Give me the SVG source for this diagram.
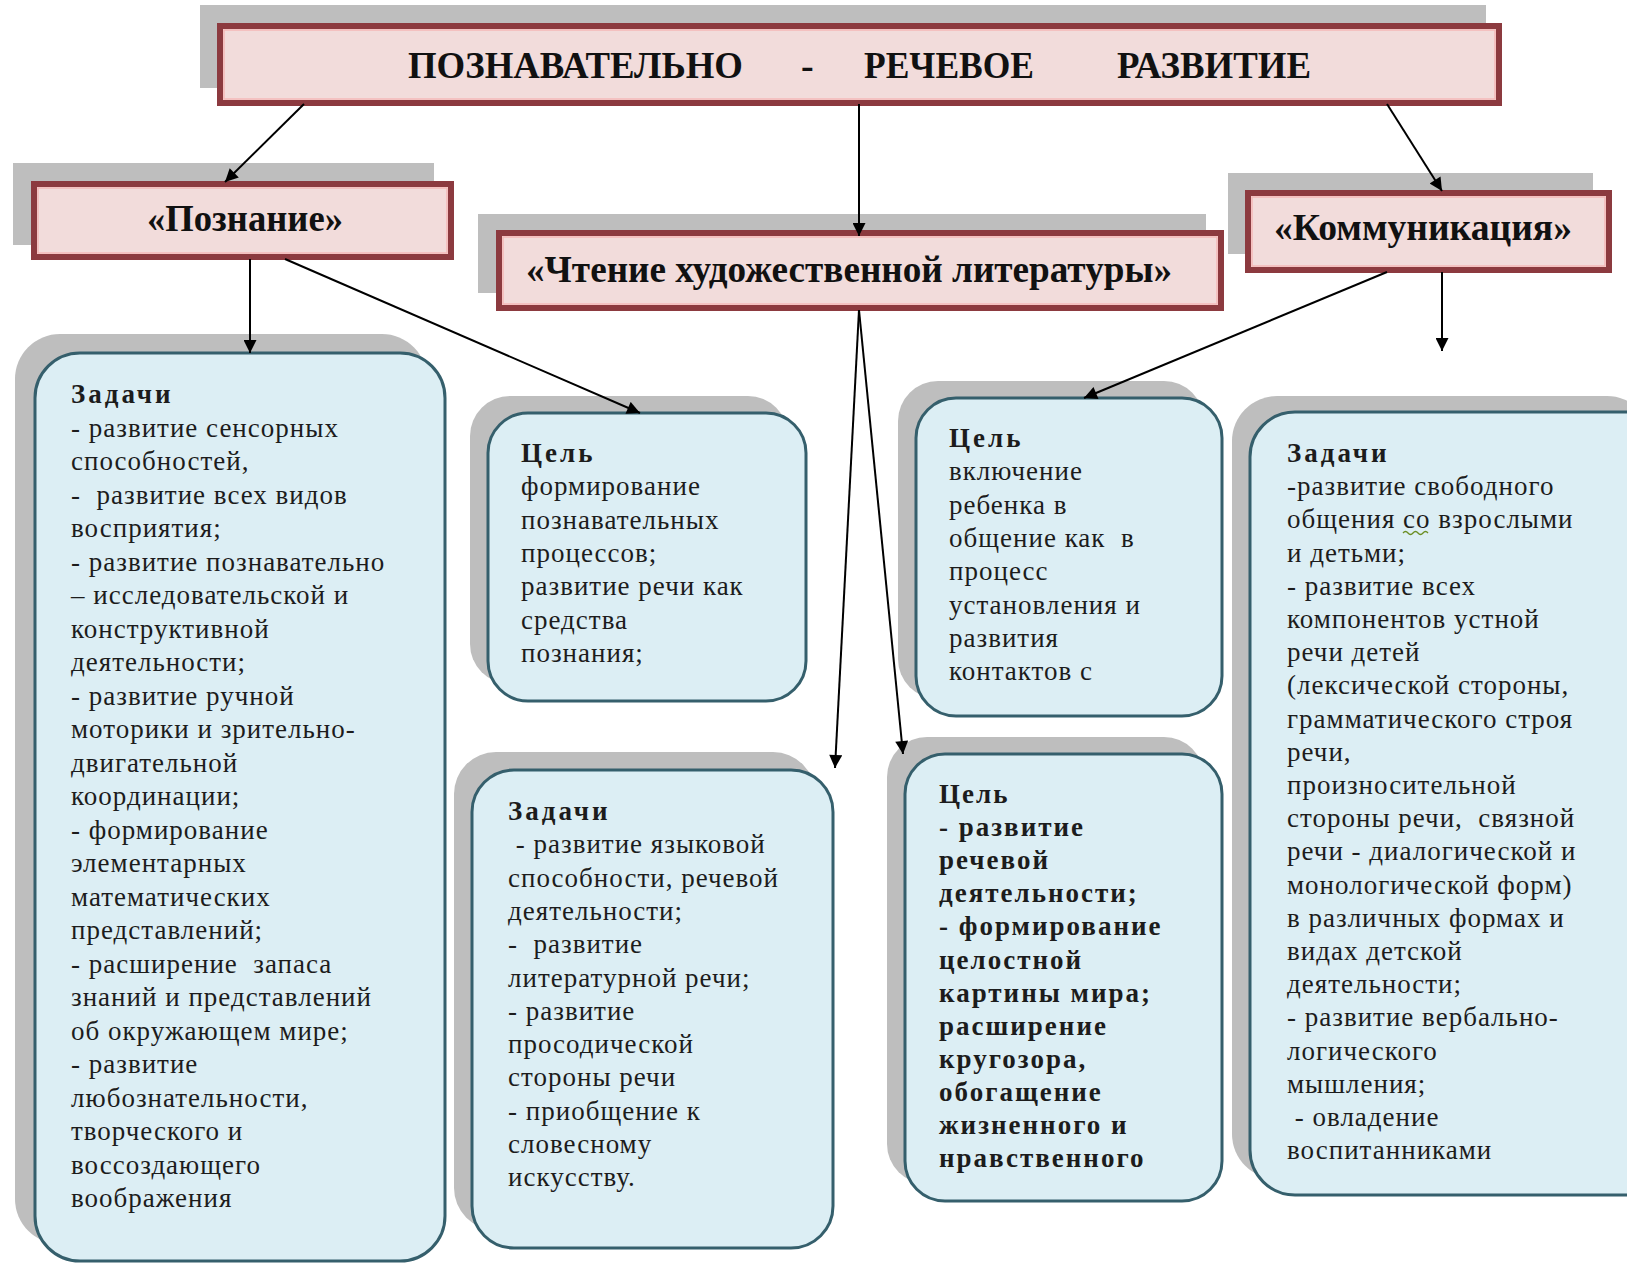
<svg xmlns="http://www.w3.org/2000/svg" width="1627" height="1266" viewBox="0 0 1627 1266">
<defs>
<style>
.shadow{fill:#BEBEBE}
.hdr{fill:#F2DCDB;stroke:#8C3A3F;stroke-width:6}
.hdrin{fill:none;stroke:#F5B8B8;stroke-width:1.5}
.card{fill:#DCEEF4;stroke:#355F6C;stroke-width:3}
.ht{font-family:"Liberation Serif",serif;font-weight:bold;fill:#111}
.body{font-family:"Liberation Serif",serif;font-size:27px;fill:#1c1c1c;letter-spacing:1px;white-space:pre}
.b{font-weight:bold;letter-spacing:3px}
.bb{font-family:"Liberation Serif",serif;font-size:27px;font-weight:bold;fill:#1c1c1c;letter-spacing:2px;white-space:pre}
.con{stroke:#000;stroke-width:2;fill:none;marker-end:url(#arr)}
</style>
<marker id="arr" viewBox="0 0 10 10" refX="10" refY="5" markerWidth="14" markerHeight="13" markerUnits="userSpaceOnUse" orient="auto">
<path d="M0,0 L10,5 L0,10 z" fill="#000"/>
</marker>
</defs>
<rect width="1627" height="1266" fill="#fff"/>

<g id="node-top">
<rect class="shadow" x="200" y="5" width="1286" height="83"/>
<rect class="hdr" x="220" y="26" width="1279" height="77"/>
<rect class="hdrin" x="224" y="30" width="1271" height="69"/>
<text class="ht" font-size="38" y="78"><tspan x="408" textLength="335" lengthAdjust="spacingAndGlyphs">ПОЗНАВАТЕЛЬНО</tspan><tspan x="801">-</tspan><tspan x="864" textLength="170" lengthAdjust="spacingAndGlyphs">РЕЧЕВОЕ</tspan><tspan x="1117" textLength="194" lengthAdjust="spacingAndGlyphs">РАЗВИТИЕ</tspan></text>
</g>

<g id="node-poznanie">
<rect class="shadow" x="13" y="163" width="421" height="82"/>
<rect class="hdr" x="34" y="184" width="417" height="73"/>
<rect class="hdrin" x="38" y="188" width="409" height="65"/>
<text class="ht" font-size="37" x="147" y="231" textLength="196" lengthAdjust="spacingAndGlyphs">«Познание»</text>
</g>

<g id="node-chtenie">
<rect class="shadow" x="478" y="214" width="728" height="79"/>
<rect class="hdr" x="499" y="233" width="722" height="75"/>
<rect class="hdrin" x="503" y="237" width="714" height="67"/>
<text class="ht" font-size="37" x="526" y="282" textLength="646" lengthAdjust="spacingAndGlyphs">«Чтение художественной литературы»</text>
</g>

<g id="node-kommunikatsiya">
<rect class="shadow" x="1228" y="173" width="365" height="81"/>
<rect class="hdr" x="1248" y="193" width="361" height="77"/>
<rect class="hdrin" x="1252" y="197" width="353" height="69"/>
<text class="ht" font-size="37" x="1274" y="240" textLength="298" lengthAdjust="spacingAndGlyphs">«Коммуникация»</text>
</g>

<g id="node-zadachi-poznanie">
<rect class="shadow" x="15" y="334" width="412" height="910" rx="45"/>
<rect class="card" x="35" y="353" width="410" height="908" rx="45"/>
<text class="body" y="403">
<tspan x="71" class="b">Задачи</tspan>
<tspan x="71" dy="33.5">- развитие сенсорных</tspan>
<tspan x="71" dy="33.5">способностей,</tspan>
<tspan x="71" dy="33.5">-  развитие всех видов</tspan>
<tspan x="71" dy="33.5">восприятия;</tspan>
<tspan x="71" dy="33.5">- развитие познавательно</tspan>
<tspan x="71" dy="33.5">– исследовательской и</tspan>
<tspan x="71" dy="33.5">конструктивной</tspan>
<tspan x="71" dy="33.5">деятельности;</tspan>
<tspan x="71" dy="33.5">- развитие ручной</tspan>
<tspan x="71" dy="33.5">моторики и зрительно-</tspan>
<tspan x="71" dy="33.5">двигательной</tspan>
<tspan x="71" dy="33.5">координации;</tspan>
<tspan x="71" dy="33.5">- формирование</tspan>
<tspan x="71" dy="33.5">элементарных</tspan>
<tspan x="71" dy="33.5">математических</tspan>
<tspan x="71" dy="33.5">представлений;</tspan>
<tspan x="71" dy="33.5">- расширение  запаса</tspan>
<tspan x="71" dy="33.5">знаний и представлений</tspan>
<tspan x="71" dy="33.5">об окружающем мире;</tspan>
<tspan x="71" dy="33.5">- развитие</tspan>
<tspan x="71" dy="33.5">любознательности,</tspan>
<tspan x="71" dy="33.5">творческого и</tspan>
<tspan x="71" dy="33.5">воссоздающего</tspan>
<tspan x="71" dy="33.5">воображения</tspan>
</text>
</g>

<g id="node-tsel-poznanie">
<rect class="shadow" x="470" y="396" width="318" height="288" rx="40"/>
<rect class="card" x="488" y="413" width="318" height="288" rx="40"/>
<text class="body" y="462">
<tspan x="521" class="b">Цель</tspan>
<tspan x="521" dy="33.3">формирование</tspan>
<tspan x="521" dy="33.3">познавательных</tspan>
<tspan x="521" dy="33.3">процессов;</tspan>
<tspan x="521" dy="33.3">развитие речи как</tspan>
<tspan x="521" dy="33.3">средства</tspan>
<tspan x="521" dy="33.3">познания;</tspan>
</text>
</g>

<g id="node-zadachi-chtenie">
<rect class="shadow" x="454" y="752" width="361" height="478" rx="42"/>
<rect class="card" x="472" y="770" width="361" height="478" rx="42"/>
<text class="body" y="820">
<tspan x="508" class="b">Задачи</tspan>
<tspan x="508" dy="33.3"> - развитие языковой</tspan>
<tspan x="508" dy="33.3">способности, речевой</tspan>
<tspan x="508" dy="33.3">деятельности;</tspan>
<tspan x="508" dy="33.3">-  развитие</tspan>
<tspan x="508" dy="33.3">литературной речи;</tspan>
<tspan x="508" dy="33.3">- развитие</tspan>
<tspan x="508" dy="33.3">просодической</tspan>
<tspan x="508" dy="33.3">стороны речи</tspan>
<tspan x="508" dy="33.3">- приобщение к</tspan>
<tspan x="508" dy="33.3">словесному</tspan>
<tspan x="508" dy="33.3">искусству.</tspan>
</text>
</g>

<g id="node-tsel-kommunikatsiya">
<rect class="shadow" x="898" y="381" width="306" height="318" rx="40"/>
<rect class="card" x="916" y="398" width="306" height="318" rx="40"/>
<text class="body" y="447">
<tspan x="949" class="b">Цель</tspan>
<tspan x="949" dy="33.3">включение</tspan>
<tspan x="949" dy="33.3">ребенка в</tspan>
<tspan x="949" dy="33.3">общение как  в</tspan>
<tspan x="949" dy="33.3">процесс</tspan>
<tspan x="949" dy="33.3">установления и</tspan>
<tspan x="949" dy="33.3">развития</tspan>
<tspan x="949" dy="33.3">контактов с</tspan>
</text>
</g>

<g id="node-tsel-chtenie">
<rect class="shadow" x="887" y="737" width="317" height="447" rx="40"/>
<rect class="card" x="905" y="754" width="317" height="447" rx="40"/>
<text class="bb" y="803">
<tspan x="939">Цель</tspan>
<tspan x="939" dy="33.1">- развитие</tspan>
<tspan x="939" dy="33.1">речевой</tspan>
<tspan x="939" dy="33.1">деятельности;</tspan>
<tspan x="939" dy="33.1">- формирование</tspan>
<tspan x="939" dy="33.1">целостной</tspan>
<tspan x="939" dy="33.1">картины мира;</tspan>
<tspan x="939" dy="33.1">расширение</tspan>
<tspan x="939" dy="33.1">кругозора,</tspan>
<tspan x="939" dy="33.1">обогащение</tspan>
<tspan x="939" dy="33.1">жизненного и</tspan>
<tspan x="939" dy="33.1">нравственного</tspan>
</text>
</g>

<g id="node-zadachi-kommunikatsiya">
<rect class="shadow" x="1232" y="396" width="420" height="783" rx="45"/>
<rect class="card" x="1250" y="412" width="420" height="783" rx="45"/>
<text class="body" y="462">
<tspan x="1287" class="b">Задачи</tspan>
<tspan x="1287" dy="33.2">-развитие свободного</tspan>
<tspan x="1287" dy="33.2">общения со взрослыми</tspan>
<tspan x="1287" dy="33.2">и детьми;</tspan>
<tspan x="1287" dy="33.2">- развитие всех</tspan>
<tspan x="1287" dy="33.2">компонентов устной</tspan>
<tspan x="1287" dy="33.2">речи детей</tspan>
<tspan x="1287" dy="33.2">(лексической стороны,</tspan>
<tspan x="1287" dy="33.2">грамматического строя</tspan>
<tspan x="1287" dy="33.2">речи,</tspan>
<tspan x="1287" dy="33.2">произносительной</tspan>
<tspan x="1287" dy="33.2">стороны речи,  связной</tspan>
<tspan x="1287" dy="33.2">речи - диалогической и</tspan>
<tspan x="1287" dy="33.2">монологической форм)</tspan>
<tspan x="1287" dy="33.2">в различных формах и</tspan>
<tspan x="1287" dy="33.2">видах детской</tspan>
<tspan x="1287" dy="33.2">деятельности;</tspan>
<tspan x="1287" dy="33.2">- развитие вербально-</tspan>
<tspan x="1287" dy="33.2">логического</tspan>
<tspan x="1287" dy="33.2">мышления;</tspan>
<tspan x="1287" dy="33.2"> - овладение</tspan>
<tspan x="1287" dy="33.2">воспитанниками</tspan>
</text>
<path d="M1403,533 q2.5,-3 5,0 t5,0 t5,0 t5,0 t5,0" fill="none" stroke="#6B8E23" stroke-width="1.3"/>
</g>

<g id="connectors">
<line class="con" x1="304" y1="104" x2="225" y2="182"/>
<line class="con" x1="859" y1="104" x2="859" y2="236"/>
<line class="con" x1="1387" y1="104" x2="1442" y2="191"/>
<line class="con" x1="250" y1="259" x2="250" y2="353"/>
<line class="con" x1="285" y1="259" x2="640" y2="413"/>
<line class="con" x1="859" y1="310" x2="835" y2="768"/>
<line class="con" x1="859" y1="310" x2="903" y2="754"/>
<line class="con" x1="1387" y1="272" x2="1084" y2="398"/>
<line class="con" x1="1442" y1="272" x2="1442" y2="351"/>
</g>
</svg>
